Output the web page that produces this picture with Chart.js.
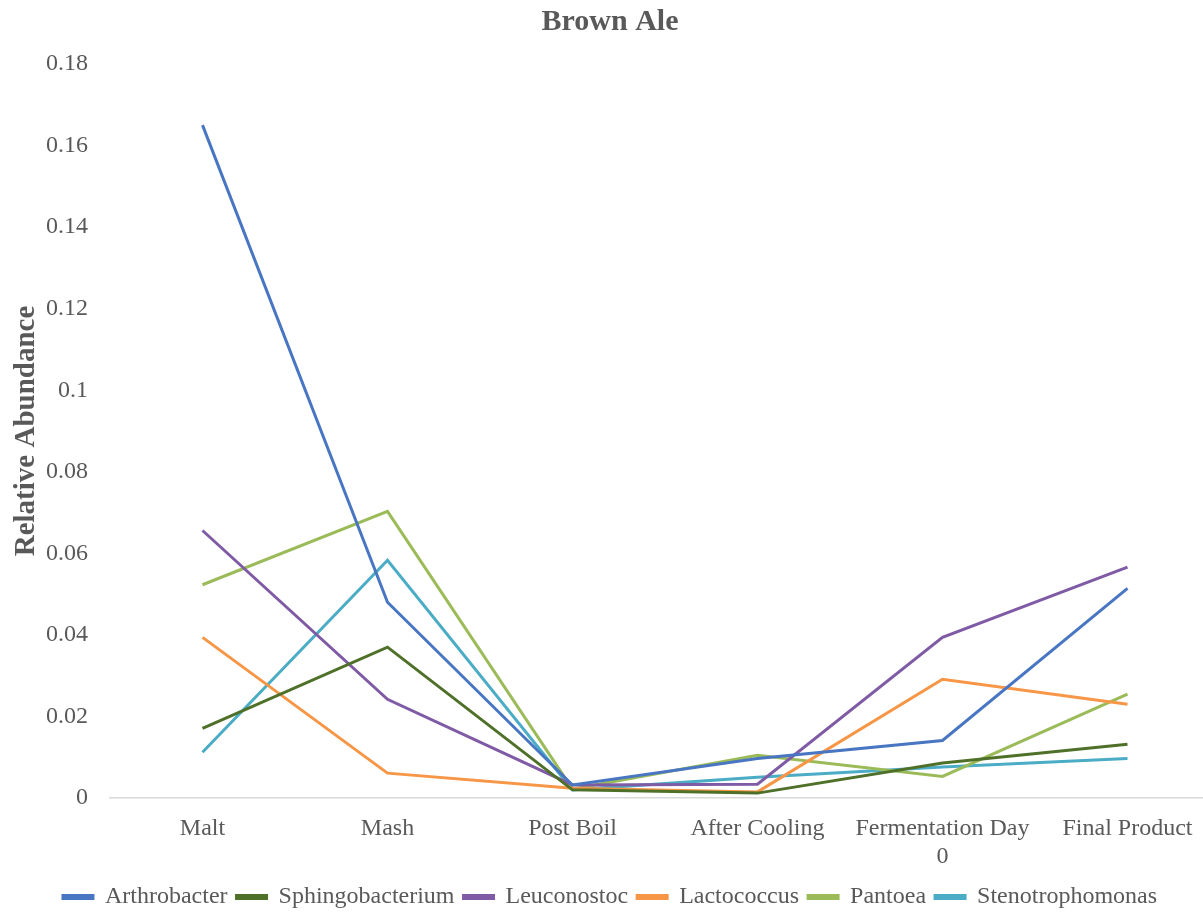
<!DOCTYPE html>
<html>
<head>
<meta charset="utf-8">
<script src="https://cdn.jsdelivr.net/npm/chart.js@4/dist/chart.umd.min.js"></script>
<style>
  html, body { margin: 0; padding: 0; background: #fff; overflow: hidden; }
  #wrap { position: relative; width: 1220px; height: 919px; }
</style>
</head>
<body>
<div id="wrap"><canvas id="c" width="1220" height="919"></canvas></div>
<script>
// Sampling stages of the brew
const stages = ['Malt', 'Mash', 'Post Boil', 'After Cooling', ['Fermentation Day', '0'], 'Final Product'];

// Relative abundance of each genus at each stage
const arthrobacter     = [0.165, 0.048, 0.0032, 0.0097, 0.0141, 0.0514];
const sphingobacterium = [0.0171, 0.0370, 0.0020, 0.0012, 0.0086, 0.0132];
const leuconostoc      = [0.0656, 0.0242, 0.0032, 0.0034, 0.0394, 0.0566];
const lactococcus      = [0.0394, 0.0061, 0.0024, 0.0015, 0.0291, 0.0230];
const pantoea          = [0.0523, 0.0703, 0.0022, 0.0105, 0.0053, 0.0255];
const stenotrophomonas = [0.0112, 0.0583, 0.0020, 0.0051, 0.0076, 0.0097];

// Y-axis range and step
const yMin = 0, yMax = 0.18, yStep = 0.02;

const textGray = '#595959';
const serif = '"Liberation Serif", "Times New Roman", serif';

function series(label, data, color) {
  return {
    label, data,
    borderColor: color,
    backgroundColor: color,
    borderWidth: 3,
    pointRadius: 0,
    pointHoverRadius: 0,
    tension: 0,
    fill: false
  };
}

new Chart(document.getElementById('c'), {
  type: 'line',
  data: {
    labels: stages,
    datasets: [
      series('Arthrobacter', arthrobacter, '#4876c2'),
      series('Sphingobacterium', sphingobacterium, '#4f7028'),
      series('Leuconostoc', leuconostoc, '#7f5ba6'),
      series('Lactococcus', lactococcus, '#f79646'),
      series('Pantoea', pantoea, '#9bbb59'),
      series('Stenotrophomonas', stenotrophomonas, '#4bacc6')
    ]
  },
  options: {
    responsive: false,
    animation: false,
    layout: { padding: 0 },
    plugins: {
      title: {
        display: true,
        text: 'Brown Ale',
        color: textGray,
        font: { family: serif, size: 30, weight: 'bold' },
        padding: { top: 4, bottom: 24 }
      },
      legend: {
        position: 'bottom',
        labels: {
          color: textGray,
          font: { family: serif, size: 24 },
          boxWidth: 30,
          boxHeight: 3,
          padding: 9
        }
      },
      tooltip: { enabled: false }
    },
    scales: {
      x: {
        offset: true,
        grid: { display: false, offset: true },
        border: { display: true, color: '#d9d9d9', width: 1.5 },
        ticks: {
          color: textGray,
          font: { family: serif, size: 24, lineHeight: 1.15 },
          padding: 9,
          maxRotation: 0,
          autoSkip: false
        },
        afterFit(scale) { scale.height = 78; }
      },
      y: {
        min: yMin,
        max: yMax,
        grid: { display: false },
        border: { display: false },
        ticks: {
          stepSize: yStep,
          color: textGray,
          font: { family: serif, size: 24 },
          padding: 14,
          callback: v => String(Math.round(v * 100) / 100)
        },
        title: {
          display: true,
          text: 'Relative Abundance',
          color: textGray,
          font: { family: serif, size: 29, weight: 'bold' },
          padding: { top: 9, bottom: 0 }
        },
        afterFit(scale) { scale.width = 110; }
      }
    }
  }
});
</script>
</body>
</html>
